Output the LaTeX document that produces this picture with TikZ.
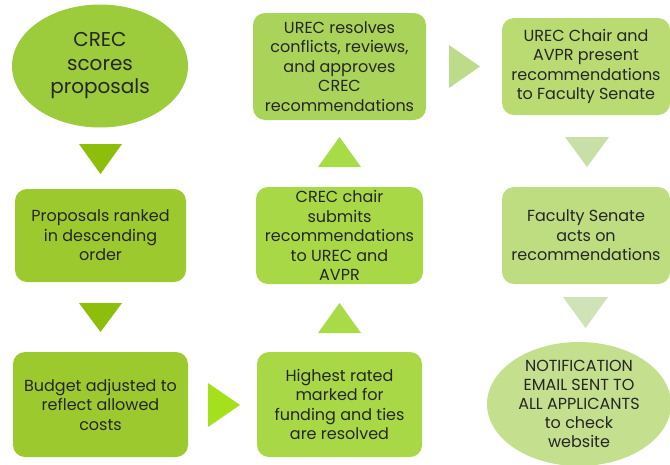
\documentclass[tikz,border=0pt]{standalone}
\usepackage{fontspec}
\setmainfont{Poppins}
\usetikzlibrary{shapes.geometric}
\definecolor{txt}{HTML}{262626}
\definecolor{cA}{HTML}{9CCB3B}
\definecolor{cB}{HTML}{9CC92E}
\definecolor{cC}{HTML}{A8D846}
\definecolor{cD}{HTML}{AAD35A}
\definecolor{cE}{HTML}{B9DB72}
\definecolor{cF}{HTML}{BEDC80}
\definecolor{cG}{HTML}{C4DF8E}
\definecolor{aA}{HTML}{8DBE0C}
\definecolor{aB}{HTML}{A5E01C}
\definecolor{aC}{HTML}{A8DC46}
\definecolor{aD}{HTML}{BDDC8A}
\definecolor{aE}{HTML}{C8DFA8}
\definecolor{aF}{HTML}{CFE2B8}
\tikzset{
  stepbox/.style={rectangle, rounded corners=12pt, draw=none, align=center,
    text=txt, inner sep=0pt, font=\fontsize{16}{19.5}\selectfont},
  ovalbox/.style={ellipse, draw=none, align=center, text=txt, inner sep=0pt},
}
\begin{document}
\begin{tikzpicture}[x=1pt,y=-1pt]
\useasboundingbox (0,0) rectangle (670,464);
% nodes
\node[ovalbox, fill=cA, minimum width=176pt, minimum height=123pt,
  font=\fontsize{20}{23.5}\selectfont] (crec) at (100,66) {CREC\\scores\\proposals};
\node[stepbox, fill=cB, minimum width=171pt, minimum height=93pt] (prop) at (100.5,235.5)
  {Proposals ranked\\in descending\\order};
\node[stepbox, fill=cB, minimum width=175pt, minimum height=105pt] (budget) at (100.5,404.5)
  {Budget adjusted to\\reflect allowed\\costs};
\node[stepbox, fill=cC, minimum width=165pt, minimum height=105pt] (high) at (339.5,404.5)
  {Highest rated\\marked for\\funding and ties\\are resolved};
\node[stepbox, fill=cC, minimum width=167pt, minimum height=97pt] (chair) at (339.5,235.5)
  {CREC chair\\submits\\recommendations\\to UREC and\\AVPR};
\node[stepbox, fill=cD, minimum width=173pt, minimum height=107pt] (urec) at (339.5,66.5)
  {UREC resolves\\conflicts, reviews,\\and approves\\CREC\\recommendations};
\node[stepbox, fill=cE, minimum width=168pt, minimum height=97pt] (present) at (586,66.5)
  {UREC Chair and\\AVPR present\\recommendations\\to Faculty Senate};
\node[stepbox, fill=cF, minimum width=168pt, minimum height=97pt] (senate) at (586,235.5)
  {Faculty Senate\\acts on\\recommendations};
\node[ovalbox, fill=cG, minimum width=184pt, minimum height=124pt,
  font=\fontsize{16}{19}\selectfont] (notify) at (579,404)
  {NOTIFICATION\\EMAIL SENT TO\\ALL APPLICANTS\\to check\\website};
% arrows
\fill[aA] (79,144) -- (122,144) -- (100.5,174) -- cycle;
\fill[aA] (79,303) -- (122,303) -- (100.5,332) -- cycle;
\fill[aB] (208,383) -- (208,427) -- (240,405) -- cycle;
\fill[aC] (318,333) -- (361,333) -- (339.5,303) -- cycle;
\fill[aC] (318,167) -- (361,167) -- (339.5,137) -- cycle;
\fill[aD] (449,45) -- (449,88) -- (480,66.5) -- cycle;
\fill[aE] (565,137) -- (609,137) -- (587,167) -- cycle;
\fill[aF] (563,297) -- (608,297) -- (585.5,328) -- cycle;
\end{tikzpicture}
\end{document}
